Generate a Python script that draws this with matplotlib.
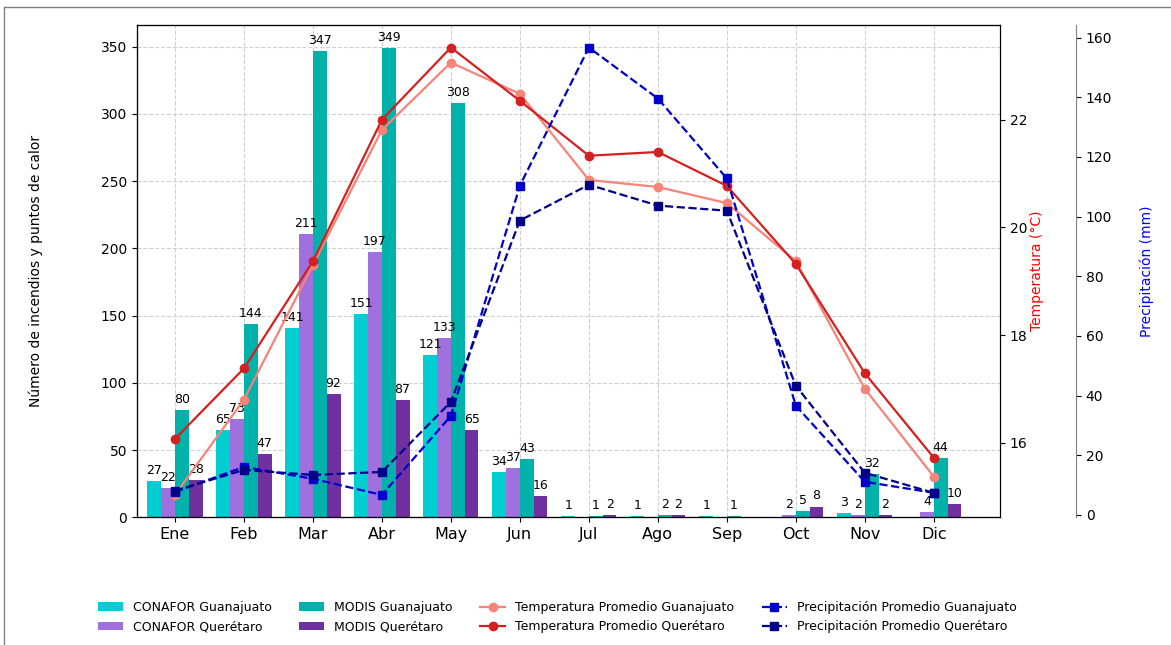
import numpy as np
import matplotlib.pyplot as plt
from matplotlib.lines import Line2D

#------------------------------------------------------------------#
# Data

MESES = ['Ene', 'Feb', 'Mar', 'Abr', 'May', 'Jun',
         'Jul', 'Ago', 'Sep', 'Oct', 'Nov', 'Dic']

conafor_gto = [27, 65, 141, 151, 121, 34, 1, 1, 1, 0, 3, 0]
conafor_qro = [22, 73, 211, 197, 133, 37, 0, 0, 0, 2, 2, 4]
modis_gto = [80, 144, 347, 349, 308, 43, 1, 2, 1, 5, 32, 44]
modis_qro = [28, 47, 92, 87, 65, 16, 2, 2, 0, 8, 2, 10]

temp_gto = [15.03, 16.80, 19.30, 21.81, 23.06, 22.48,
            20.88, 20.75, 20.45, 19.37, 17.00, 15.37]
temp_qro = [16.07, 17.38, 19.37, 22.00, 23.34, 22.35,
            21.33, 21.40, 20.77, 19.32, 17.29, 15.72]

prec_gto = [7.7, 16.1, 12.1, 6.7, 33.2, 110.4,
            156.7, 139.6, 112.8, 36.6, 11.1, 7.4]
prec_qro = [8.1, 15.1, 13.4, 14.4, 37.9, 98.7,
            110.7, 103.7, 102.0, 43.3, 14.1, 7.4]

#------------------------------------------------------------------#

x = np.arange(len(MESES))
w = 0.2

fig = plt.figure(figsize=(11.71, 6.45), dpi=100)
ax = fig.add_axes([0.117, 0.198, 0.737, 0.763])

series = [
    (conafor_gto, '#00CED1', 'CONAFOR Guanajuato', -1.5),
    (conafor_qro, '#9F70DE', 'CONAFOR Querétaro', -0.5),
    (modis_gto, '#00B2A9', 'MODIS Guanajuato', 0.5),
    (modis_qro, '#7030A0', 'MODIS Querétaro', 1.5),
]
handles = []
for vals, col, lab, off in series:
    bars = ax.bar(x + off * w, vals, w, color=col, label=lab, zorder=2)
    handles.append(bars)
    for b, v in zip(bars, vals):
        if v > 0:
            ax.text(b.get_x() + b.get_width() / 2, v + 3, str(v),
                    ha='center', va='bottom', fontsize=9, zorder=5)

ax.set_xticks(x)
ax.set_xticklabels(MESES, fontsize=11.5)
ax.set_xlim(-0.55, 11.96)
ax.set_ylim(0, 366)
ax.set_ylabel('Número de incendios y puntos de calor', fontsize=10, labelpad=42)
ax.grid(True, linestyle='--', color='#d0d0d0', linewidth=0.8, zorder=0)
ax.set_axisbelow(True)

# Temperature axis
ax2 = ax.twinx()
l1, = ax2.plot(x, temp_gto, '-o', color='#F88379', linewidth=1.6,
               markersize=6, label='Temperatura Promedio Guanajuato', zorder=3)
l2, = ax2.plot(x, temp_qro, '-o', color='#D42020', linewidth=1.6,
               markersize=6, label='Temperatura Promedio Querétaro', zorder=3)
ax2.set_ylabel('Temperatura (°C)', color='red', fontsize=10, labelpad=2)
ax2.set_yticks([16, 18, 20, 22])

# Precipitation axis
ax3 = ax.twinx()
ax3.spines['right'].set_position(('axes', 1.088))
ax3.spines['right'].set_color('grey')
l3, = ax3.plot(x, prec_gto, '--s', color='#0000CD', linewidth=1.6,
               markersize=6, label='Precipitación Promedio Guanajuato', zorder=3)
l4, = ax3.plot(x, prec_qro, '--s', color='#00008B', linewidth=1.6,
               markersize=6, label='Precipitación Promedio Querétaro', zorder=3)
ax3.set_ylabel('Precipitación (mm)', color='blue', fontsize=10, labelpad=20)

handles += [l1, l2, l3, l4]
fig.legend(handles=handles, labels=[h.get_label() for h in handles],
           loc='center', bbox_to_anchor=(0.476, 0.043), ncol=4,
           frameon=False, fontsize=9, columnspacing=2.2)

# thin figure border (partially visible in the reference)
fig.add_artist(Line2D([0.003, 1.01], [0.989, 0.989], color='grey', linewidth=1,
                      transform=fig.transFigure))
fig.add_artist(Line2D([0.003, 0.003], [-0.01, 0.989], color='grey', linewidth=1,
                      transform=fig.transFigure))

plt.savefig('out.png', dpi=100)
